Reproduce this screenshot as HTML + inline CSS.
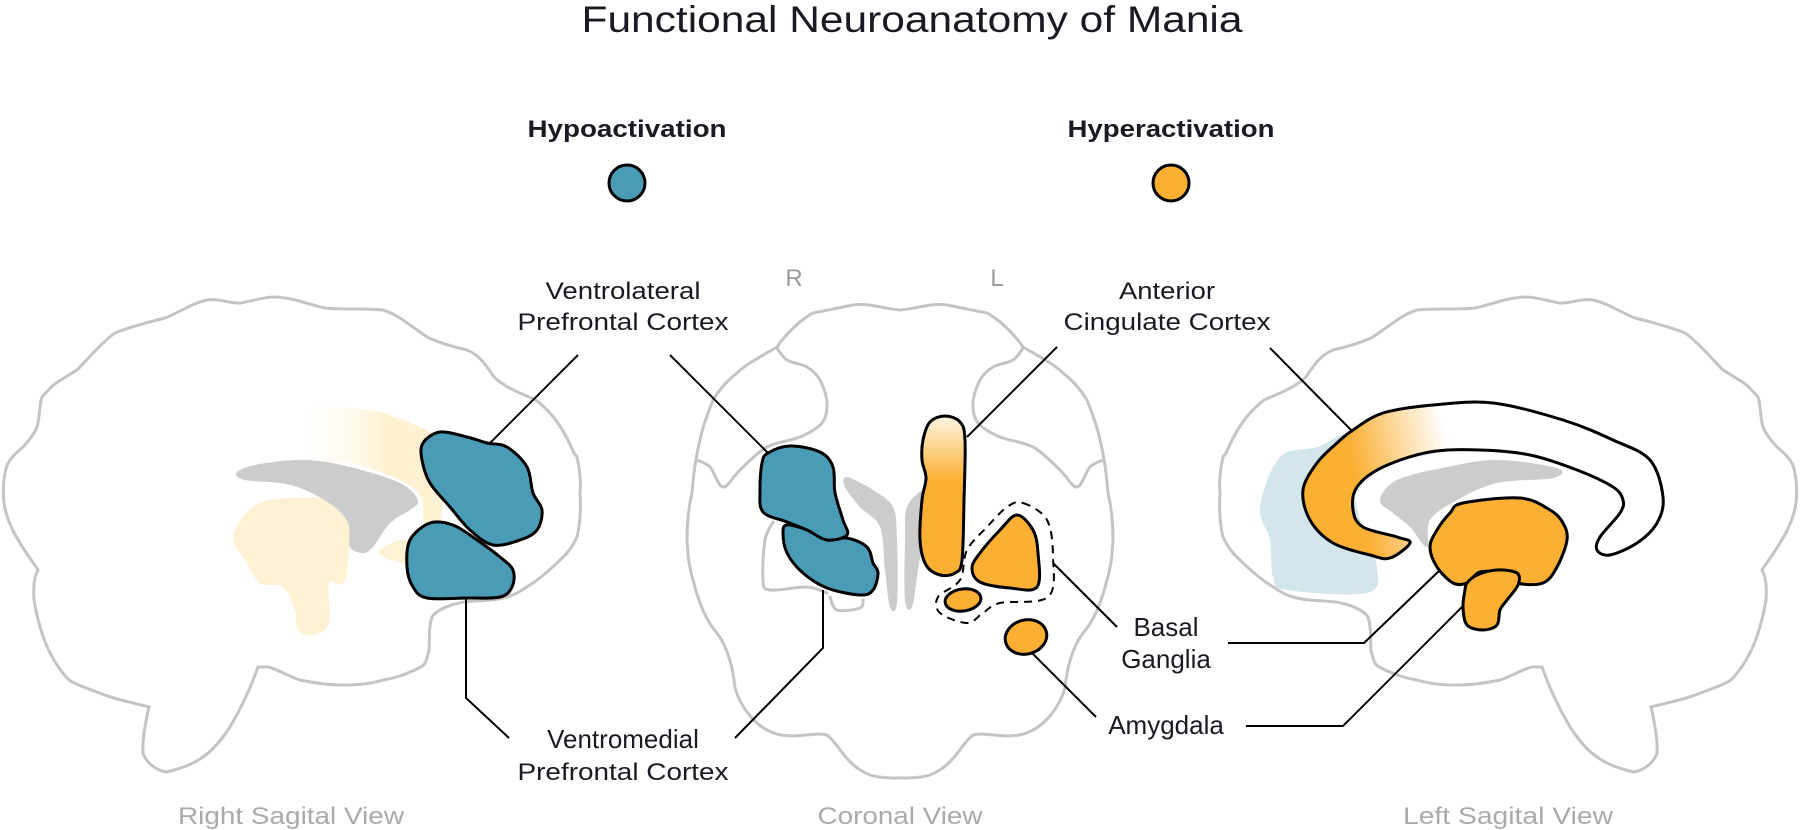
<!DOCTYPE html>
<html><head><meta charset="utf-8"><style>
html,body{margin:0;padding:0;background:#fff;}
svg{display:block;}
text{font-family:"Liberation Sans",Arial,sans-serif;}
</style></head><body>
<svg id="s" width="1800" height="830" viewBox="0 0 1800 830" xmlns="http://www.w3.org/2000/svg">
<defs>
<linearGradient id="fo" gradientUnits="userSpaceOnUse" x1="290" y1="0" x2="385" y2="0"><stop offset="0" stop-color="#fff" stop-opacity="0"/><stop offset="1" stop-color="#fff1d2"/></linearGradient>
<linearGradient id="cap" gradientUnits="userSpaceOnUse" x1="0" y1="418" x2="0" y2="480"><stop offset="0" stop-color="#fff4de"/><stop offset="1" stop-color="#fbb034"/></linearGradient>
<linearGradient id="acc" gradientUnits="userSpaceOnUse" x1="1350" y1="450" x2="1445" y2="430"><stop offset="0" stop-color="#fbb034"/><stop offset="1" stop-color="#fff"/></linearGradient>
</defs>

<text x="912" y="32" font-size="37" text-anchor="middle" fill="#1a1a22" textLength="661" lengthAdjust="spacingAndGlyphs">Functional Neuroanatomy of Mania</text>
<text x="627" y="137" font-size="24" font-weight="bold" text-anchor="middle" fill="#1a1a22" textLength="199" lengthAdjust="spacingAndGlyphs">Hypoactivation</text>
<text x="1171" y="137" font-size="24" font-weight="bold" text-anchor="middle" fill="#1a1a22" textLength="207" lengthAdjust="spacingAndGlyphs">Hyperactivation</text>
<circle cx="627" cy="183" r="18" fill="#4a9bb5" stroke="#000" stroke-width="3"/>
<circle cx="1171" cy="183" r="18" fill="#fbb034" stroke="#000" stroke-width="3"/>

<g id="lb" fill="#fff" stroke="#c4c4c4" stroke-width="3">
<path d="M38,570 C 25,550 8,530 4,503 C 2,485 5,470 8,463 C 15,452 20,450 23,447 C 32,437 37,430 38,423 C 40,410 40,402 42,397 C 50,388 55,383 61,380 L 77,370 C 85,362 90,356 96,350 C 104,342 110,336 115,333 C 135,325 150,322 165,318 C 180,312 195,302 207,300 C 220,298 230,304 241,303 C 255,300 265,297 276,297 C 295,298 310,305 325,308 C 345,310 365,308 383,310 C 400,315 415,330 429,338 C 445,345 458,348 467,350 C 480,355 488,368 494,377 C 505,388 525,395 536,400 C 555,415 565,432 574,453 L 577,457 C 580,470 581,485 580,493 C 581,510 580,525 577,537 C 572,548 566,555 560,560 C 550,570 540,578 533,583 C 522,590 515,595 507,597 C 490,602 470,600 459,603 C 445,606 435,612 432,617 C 428,630 430,642 429,650 C 427,660 425,665 421,667 C 405,675 395,678 383,680 C 370,684 355,685 344,685 C 325,685 310,682 300,680 C 285,675 275,668 268,667 L 258,667 C 250,690 240,710 230,727 C 215,750 200,765 166,772 C 155,770 146,762 143,753 C 142,740 146,720 149,707 C 130,702 110,698 100,693 C 85,688 75,684 69,680 C 50,660 40,635 34,600 C 33,585 35,575 38,570 Z"/>
</g>
<g transform="translate(1800,0) scale(-1,1)" fill="#fff" stroke="#c4c4c4" stroke-width="3">
<path d="M38,570 C 25,550 8,530 4,503 C 2,485 5,470 8,463 C 15,452 20,450 23,447 C 32,437 37,430 38,423 C 40,410 40,402 42,397 C 50,388 55,383 61,380 L 77,370 C 85,362 90,356 96,350 C 104,342 110,336 115,333 C 135,325 150,322 165,318 C 180,312 195,302 207,300 C 220,298 230,304 241,303 C 255,300 265,297 276,297 C 295,298 310,305 325,308 C 345,310 365,308 383,310 C 400,315 415,330 429,338 C 445,345 458,348 467,350 C 480,355 488,368 494,377 C 505,388 525,395 536,400 C 555,415 565,432 574,453 L 577,457 C 580,470 581,485 580,493 C 581,510 580,525 577,537 C 572,548 566,555 560,560 C 550,570 540,578 533,583 C 522,590 515,595 507,597 C 490,602 470,600 459,603 C 445,606 435,612 432,617 C 428,630 430,642 429,650 C 427,660 425,665 421,667 C 405,675 395,678 383,680 C 370,684 355,685 344,685 C 325,685 310,682 300,680 C 285,675 275,668 268,667 L 258,667 C 250,690 240,710 230,727 C 215,750 200,765 166,772 C 155,770 146,762 143,753 C 142,740 146,720 149,707 C 130,702 110,698 100,693 C 85,688 75,684 69,680 C 50,660 40,635 34,600 C 33,585 35,575 38,570 Z"/>
</g>

<g fill="#fff" stroke="#c4c4c4" stroke-width="3">
<path d="M900,310 C 880,308 870,303 853,305 L 813,313 C 800,320 785,335 777,347 C 760,357 745,365 737,373 C 725,382 718,392 713,400 C 705,420 702,430 700,440 C 695,460 693,480 692,493 C 688,510 687,525 687,540 C 688,560 690,570 693,580 C 698,600 705,620 717,633 C 728,648 733,668 735,688 C 740,705 755,730 781,735 C 800,738 815,732 827,735 C 840,745 845,765 870,775 C 880,778 890,778 900,778 C 910,778 920,778 930,775 C 955,765 960,745 973,735 C 985,732 1000,738 1019,735 C 1045,730 1060,705 1065,688 C 1067,668 1072,648 1083,633 C 1095,620 1102,600 1107,580 C 1110,570 1112,560 1113,540 C 1113,525 1112,510 1108,493 C 1107,480 1105,460 1100,440 C 1098,430 1095,420 1087,400 C 1082,392 1075,382 1063,373 C 1055,365 1040,357 1023,347 C 1015,335 1000,320 987,313 L 947,305 C 930,303 920,308 900,310 Z"/>
</g>
<g fill="none" stroke="#c4c4c4" stroke-width="3" stroke-linecap="round" stroke-linejoin="round">
<polyline class="o" points="777,348 787,360 807,367 820,380 827,403 822,423 800,437 767,447 740,470 723,487 710,467 697,460"/>
<polyline class="o" points="1023,348 1013,360 993,367 980,380 973,403 978,423 1000,437 1033,447 1060,470 1077,487 1090,467 1103,460"/>
<polyline class="o" points="773,522 765,540 763,580 770,590 807,587 827,593"/>
<polyline class="o" points="830,597 837,610 860,608 863,600"/>
</g>

<polygon class="c" fill="url(#fo)" points="300,410 367,410 410,423 440,440 445,470 440,520 425,525 420,495 393,477 350,463 300,457"/>
<polygon class="c" fill="#fff2d4" points="233,537 249,510 276,499 333,500 352,520 350,545 344,583 329,583 329,623 314,635 298,630 295,610 283,587 260,583 245,560"/>
<polygon class="c" fill="#fff2d4" points="380,550 400,540 415,545 415,565 400,562 385,558"/>
<polygon class="c" fill="#cccccc" points="237,472 260,464 306,460 350,467 400,483 418,500 410,510 390,523 373,547 363,553 350,547 348,523 329,503 291,485 245,480"/>
<g fill="#4a9bb5" stroke="#000" stroke-width="3" stroke-linejoin="round">
<polygon class="c" points="423,443 440,432 467,437 487,443 507,447 527,467 533,493 542,510 537,530 520,540 493,545 470,530 450,507 430,483 422,460"/>
<polygon class="c" points="410,540 430,523 453,525 477,540 500,557 513,570 512,587 500,597 467,598 427,598 413,587 407,567"/>
</g>

<polygon class="c" fill="#cccccc" points="847,477 873,490 893,507 897,540 897,603 890,607 885,570 880,527 860,507 845,487"/>
<polygon class="c" fill="#cccccc" points="907,507 923,490 930,495 925,530 918,570 912,607 905,600 905,540"/>
<g fill="#4a9bb5" stroke="#000" stroke-width="3" stroke-linejoin="round">
<polygon class="c" points="787,525 807,530 827,540 847,538 867,547 873,563 878,573 873,590 860,595 827,588 803,573 787,553 783,533"/>
<polygon class="c" points="768,453 790,446 820,452 833,467 835,493 843,520 847,535 827,540 807,530 787,522 763,512 760,490 762,463"/>
</g>
<g fill="#fbb034" stroke="#000" stroke-width="3" stroke-linejoin="round">
<polygon class="c" fill="url(#cap)" points="923,440 930,422 945,416 960,422 965,440 964,500 962,560 955,573 940,575 926,565 920,540 922,500 926,478 922,460"/>
<polygon class="c" points="1017,515 1033,530 1038,553 1037,587 1010,588 980,582 972,568 980,553 1000,530"/>
<ellipse cx="963" cy="600" rx="18" ry="11" transform="rotate(-8 963 600)"/>
<ellipse cx="1026" cy="637" rx="21" ry="17" transform="rotate(-15 1026 637)"/>
</g>
<polygon class="c" fill="none" stroke="#000" stroke-width="2" stroke-dasharray="8,6" points="1023,503 1047,520 1053,557 1048,597 1000,603 983,613 967,623 940,613 938,597 960,580 967,550 987,527 1007,507"/>

<polygon class="c" fill="#d3e6ec" points="1280,457 1317,447 1347,435 1350,470 1360,520 1377,567 1367,593 1287,590 1273,577 1270,540 1260,507"/>
<polygon class="c" fill="#cccccc" points="1380,500 1397,480 1447,467 1497,460 1557,468 1553,478 1497,483 1457,500 1430,520 1427,547 1410,527 1393,513"/>
<g stroke="#000" stroke-width="3" stroke-linejoin="round">
<polygon class="c" fill="url(#acc)" points="1390,558 1370,555 1333,543 1310,520 1303,490 1317,463 1337,443 1353,430 1383,413 1433,405 1493,403 1563,420 1613,440 1650,460 1663,497 1657,523 1637,543 1610,555 1597,550 1600,537 1620,513 1623,500 1613,487 1577,470 1530,455 1480,450 1430,452 1383,467 1357,487 1353,510 1363,527 1397,537 1410,543"/>
<polygon class="c" fill="#fbb034" points="1463,503 1520,498 1550,510 1563,523 1567,540 1557,567 1543,583 1517,583 1503,573 1480,572 1467,583 1453,583 1437,567 1430,547 1437,530 1450,513"/>
<polygon class="c" fill="#fbb034" points="1467,583 1477,575 1497,570 1517,573 1518,585 1507,600 1500,610 1497,625 1483,630 1467,625 1463,607 1465,590"/>
</g>

<g fill="none" stroke="#000" stroke-width="2">
<polyline points="578,355 490,443"/>
<polyline points="466,598 466,698 509,738"/>
<polyline points="670,355 768,453"/>
<polyline points="823,590 823,648 735,738"/>
<polyline points="1057,347 967,437"/>
<polyline points="1053,563 1117,627"/>
<polyline points="1031,652 1096,717"/>
<polyline points="1270,348 1353,432"/>
<polyline points="1228,643 1364,643 1440,570"/>
<polyline points="1246,726 1343,726 1462,607"/>
</g>

<g font-size="24" fill="#1a1a22" text-anchor="middle">
<text x="623" y="299" textLength="155" lengthAdjust="spacingAndGlyphs">Ventrolateral</text>
<text x="623" y="330" textLength="211" lengthAdjust="spacingAndGlyphs">Prefrontal Cortex</text>
<text x="1167" y="299" textLength="96" lengthAdjust="spacingAndGlyphs">Anterior</text>
<text x="1167" y="330" textLength="207" lengthAdjust="spacingAndGlyphs">Cingulate Cortex</text>
<text x="1166" y="636" font-size="26">Basal</text>
<text x="1166" y="668" font-size="26">Ganglia</text>
<text x="1166" y="734" font-size="26">Amygdala</text>
<text x="623" y="748" font-size="26">Ventromedial</text>
<text x="623" y="780" textLength="211" lengthAdjust="spacingAndGlyphs">Prefrontal Cortex</text>
</g>
<g font-size="24" fill="#999" text-anchor="middle">
<text x="794" y="286">R</text>
<text x="997" y="286">L</text>
</g>
<g font-size="24" fill="#aaaaaa" text-anchor="middle">
<text x="291" y="824" textLength="226" lengthAdjust="spacingAndGlyphs">Right Sagital View</text>
<text x="900" y="824" textLength="165" lengthAdjust="spacingAndGlyphs">Coronal View</text>
<text x="1508" y="824" textLength="210" lengthAdjust="spacingAndGlyphs">Left Sagital View</text>
</g>
</svg>
<script>
(function(){
var ns="http://www.w3.org/2000/svg";
function pts(el){return el.getAttribute("points").trim().split(/\s+/).map(function(s){var p=s.split(",");return [+p[0],+p[1]];});}
function f(n){return Math.round(n*10)/10;}
function smooth(p,closed){var n=p.length,d="M"+p[0][0]+","+p[0][1];
 var last=closed?n:n-1;
 for(var i=0;i<last;i++){
  var p0=closed?p[(i-1+n)%n]:p[Math.max(i-1,0)],p1=p[i],p2=closed?p[(i+1)%n]:p[i+1],p3=closed?p[(i+2)%n]:p[Math.min(i+2,n-1)];
  d+=" C"+f(p1[0]+(p2[0]-p0[0])/6)+","+f(p1[1]+(p2[1]-p0[1])/6)+" "+f(p2[0]-(p3[0]-p1[0])/6)+","+f(p2[1]-(p3[1]-p1[1])/6)+" "+p2[0]+","+p2[1];
 }
 return d+(closed?"Z":"");}
var els=document.querySelectorAll("polygon.c,polyline.o");
for(var k=0;k<els.length;k++){var el=els[k];var closed=el.tagName.toLowerCase()=="polygon";
 var path=document.createElementNS(ns,"path");
 for(var j=0;j<el.attributes.length;j++){var at=el.attributes[j];if(at.name!="points"&&at.name!="class")path.setAttribute(at.name,at.value);}
 path.setAttribute("d",smooth(pts(el),closed));
 el.parentNode.replaceChild(path,el);}
})();
</script>
</body></html>
